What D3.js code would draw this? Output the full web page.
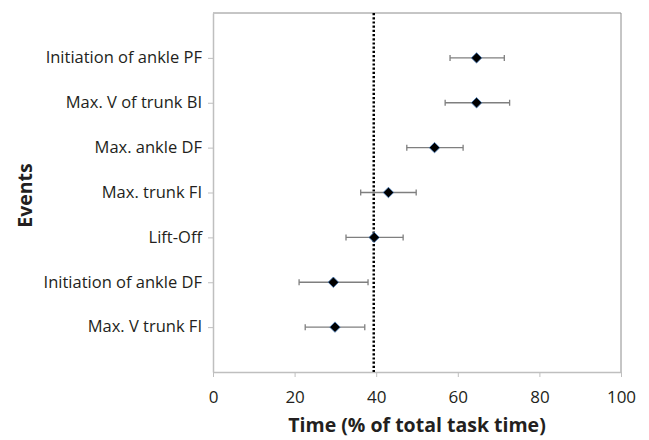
<!DOCTYPE html>
<html>
<head>
<meta charset="utf-8">
<script src="https://cdn.jsdelivr.net/npm/d3@7"></script>
<style>
  html, body { margin: 0; padding: 0; background: #fff; overflow: hidden; }
  svg { display: block; }
  svg text { font-family: "Open Sans", "Liberation Sans", sans-serif; fill: #231f20; }
</style>
</head>
<body>
<div id="chart"></div>
<script>
//-- data, top to bottom
const events = [
  "Initiation of ankle PF",
  "Max. V of trunk BI",
  "Max. ankle DF",
  "Max. trunk FI",
  "Lift-Off",
  "Initiation of ankle DF",
  "Max. V trunk FI"
];
const means = [64.6, 64.6, 54.3, 43.0, 39.5, 29.5, 29.9];
const lows = [58.1, 56.9, 47.5, 36.2, 32.6, 21.1, 22.6];
const highs = [71.4, 72.7, 61.3, 49.8, 46.6, 38.0, 37.2];
const liftOff = 39.4;
const xTicks = [0, 20, 40, 60, 80, 100];

//-- dimensions
const width = 649;
const height = 440;
const margin = { top: 13, right: 28, bottom: 68, left: 213 };
const innerWidth = width - margin.left - margin.right;
const innerHeight = height - margin.top - margin.bottom;

const svg = d3
  .select("#chart")
  .append("svg")
  .attr("width", width)
  .attr("height", height);

const g = svg
  .append("g")
  .attr("transform", `translate(${margin.left},${margin.top})`);

const x = d3.scaleLinear().domain([0, 100]).range([0, innerWidth]);
//-- events sit at 7..1, frame runs 0..8
const y = d3.scaleLinear().domain([0, events.length + 1]).range([innerHeight, 0]);
const pos = (i) => events.length - i;

//-- frame: top and right borders
g.append("line")
  .attr("x1", 0).attr("x2", innerWidth)
  .attr("y1", 0).attr("y2", 0)
  .attr("stroke", "#8c8c8c");
g.append("line")
  .attr("x1", innerWidth).attr("x2", innerWidth)
  .attr("y1", 0).attr("y2", innerHeight)
  .attr("stroke", "#8c8c8c");

//-- x axis
const xAxis = g
  .append("g")
  .attr("transform", `translate(0,${innerHeight})`)
  .call(d3.axisBottom(x).tickValues(xTicks).tickSize(5).tickSizeOuter(0).tickPadding(14));
xAxis.select(".domain").attr("stroke", "#bfbfbf").attr("stroke-width", 1.5);
xAxis.selectAll(".tick line").attr("stroke", "#bfbfbf");
xAxis.selectAll(".tick text").style("font-size", "17px").attr("fill", "#231f20");

//-- y axis (tick marks only, labels placed below)
const yAxis = g
  .append("g")
  .call(
    d3.axisLeft(y)
      .tickValues(d3.range(1, events.length + 1))
      .tickFormat("")
      .tickSize(5)
      .tickSizeOuter(0)
  );
yAxis.select(".domain").attr("stroke", "#bfbfbf").attr("stroke-width", 1.5);
yAxis.selectAll(".tick line").attr("stroke", "#bfbfbf");
yAxis.selectAll(".tick text").remove();

svg.append("g")
  .selectAll("text")
  .data(events)
  .join("text")
  .attr("x", margin.left - 11)
  .attr("y", (d, i) => margin.top + y(pos(i)))
  .attr("dy", "0.32em")
  .attr("text-anchor", "end")
  .style("font-size", "16.5px")
  .text((d) => d);

//-- lift-off reference line
g.append("line")
  .attr("x1", x(liftOff)).attr("x2", x(liftOff))
  .attr("y1", 0).attr("y2", innerHeight)
  .attr("stroke", "#000")
  .attr("stroke-width", 2.5)
  .attr("stroke-dasharray", "2.2,2");

//-- error bars
const bars = g.append("g").selectAll("g").data(events).join("g");
bars.append("line")
  .attr("x1", (d, i) => x(lows[i])).attr("x2", (d, i) => x(highs[i]))
  .attr("y1", (d, i) => y(pos(i))).attr("y2", (d, i) => y(pos(i)))
  .attr("stroke", "#7f7f7f").attr("stroke-width", 1.3);
bars.append("line")
  .attr("x1", (d, i) => x(lows[i])).attr("x2", (d, i) => x(lows[i]))
  .attr("y1", (d, i) => y(pos(i)) - 3).attr("y2", (d, i) => y(pos(i)) + 3)
  .attr("stroke", "#7f7f7f").attr("stroke-width", 1.3);
bars.append("line")
  .attr("x1", (d, i) => x(highs[i])).attr("x2", (d, i) => x(highs[i]))
  .attr("y1", (d, i) => y(pos(i)) - 3).attr("y2", (d, i) => y(pos(i)) + 3)
  .attr("stroke", "#7f7f7f").attr("stroke-width", 1.3);

//-- diamond markers
const diamond = d3.symbol().type(d3.symbolDiamond2).size(70);
g.append("g")
  .selectAll("path")
  .data(events)
  .join("path")
  .attr("d", diamond)
  .attr("transform", (d, i) => `translate(${x(means[i])},${y(pos(i))})`)
  .attr("fill", "#000")
  .attr("stroke", "#4a7ebb")
  .attr("stroke-width", 0.8);

//-- axis titles
svg.append("text")
  .attr("x", margin.left + innerWidth / 2)
  .attr("y", 432)
  .attr("text-anchor", "middle")
  .style("font-size", "19.5px")
  .style("font-weight", "bold")
  .text("Time (% of total task time)");

svg.append("text")
  .attr("transform", `translate(32,${margin.top + innerHeight / 2 + 3}) rotate(-90)`)
  .attr("text-anchor", "middle")
  .style("font-size", "19.5px")
  .style("font-weight", "bold")
  .text("Events");
</script>
</body>
</html>
